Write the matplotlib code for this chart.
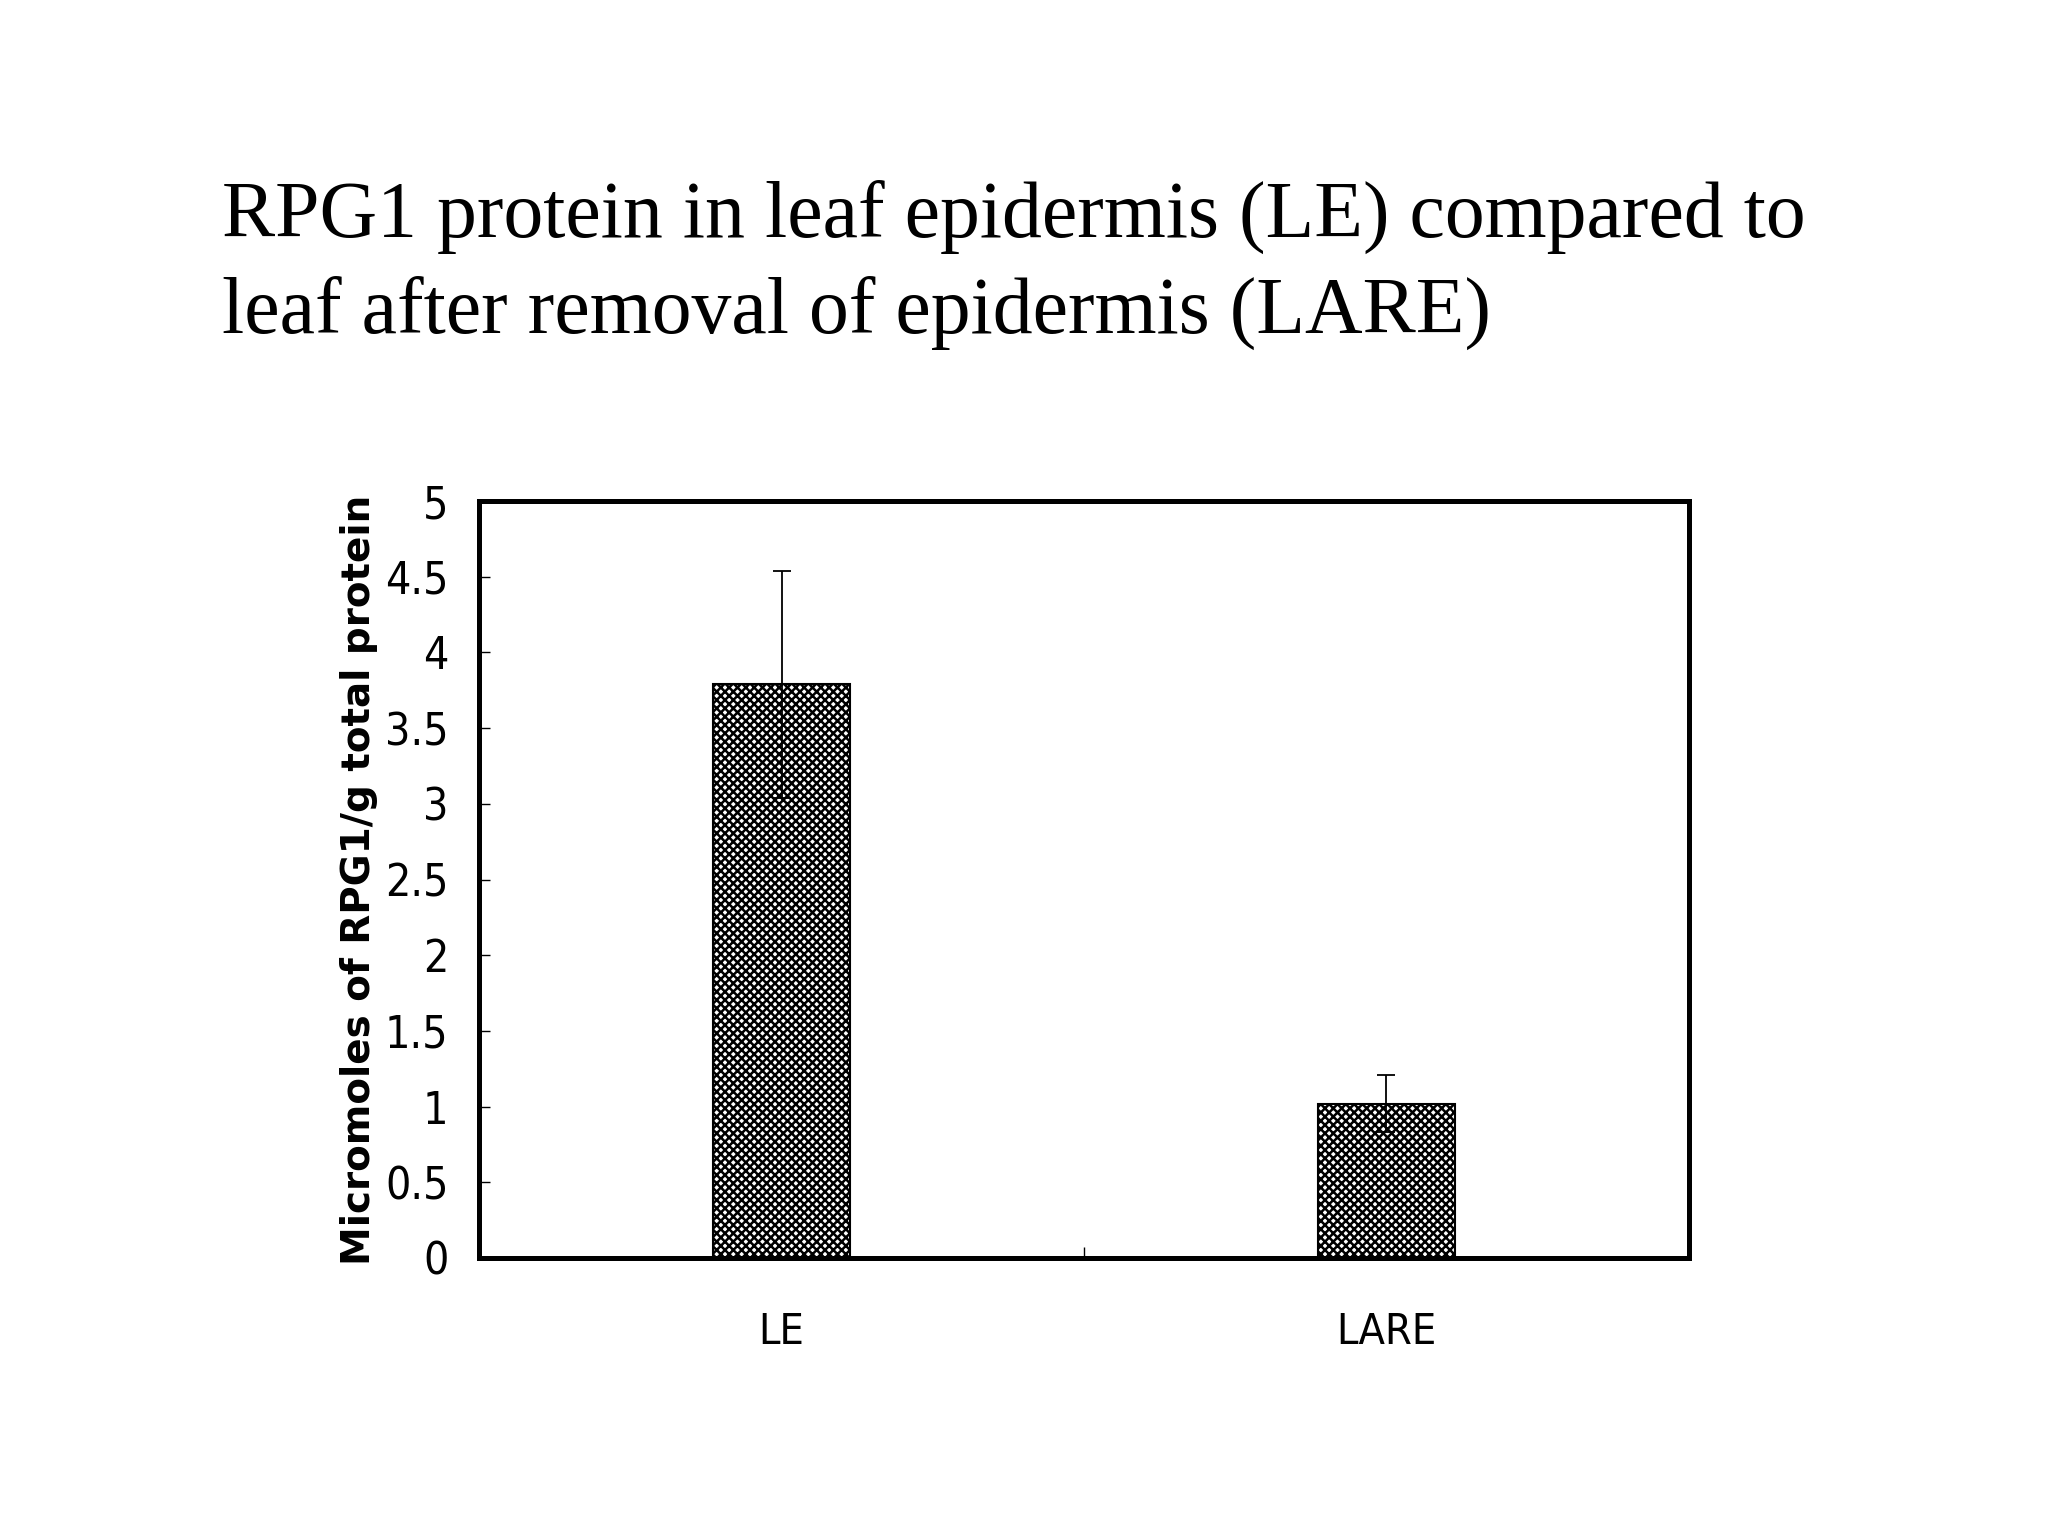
import matplotlib
matplotlib.use("Agg")
import matplotlib.pyplot as plt
import numpy as np

# RPG1 protein, leaf epidermis vs leaf after removal of epidermis
categories = ["LE", "LARE"]
means = [3.79, 1.02]
errors = [0.75, 0.19]
yticks = [0, 0.5, 1, 1.5, 2, 2.5, 3, 3.5, 4, 4.5, 5]
ytick_labels = ["0", "0.5", "1", "1.5", "2", "2.5", "3", "3.5", "4", "4.5", "5"]
title_lines = ["RPG1 protein in leaf epidermis (LE) compared to",
               "leaf after removal of epidermis (LARE)"]

plt.rcParams["hatch.linewidth"] = 1.8

fig = plt.figure(figsize=(20.48, 15.36), dpi=100)
ax = fig.add_axes([0.2339, 0.181, 0.5908, 0.4928])

x = np.arange(len(categories))
ax.bar(x, means, width=0.228, color="white", edgecolor="black",
       linewidth=1.5, hatch="xxxx", zorder=2)
ax.errorbar(x, means, yerr=errors, fmt="none", ecolor="black",
            elinewidth=1.3, capsize=6.8, capthick=1.3, zorder=3)

ax.set_xlim(-0.5, 1.5)
ax.set_ylim(0, 5)

tick_font = dict(family="DejaVu Sans", fontstretch="condensed")
ax.set_yticks(yticks)
ax.set_yticklabels(ytick_labels, fontsize=32, **tick_font)
ax.tick_params(axis="y", direction="in", length=8, width=1, pad=22)

ax.set_xticks(x)
ax.set_xticklabels(categories, fontsize=31, **tick_font)
ax.tick_params(axis="x", which="major", length=0, pad=38)
ax.set_xticks([0.5], minor=True)
ax.tick_params(axis="x", which="minor", direction="in", length=8, width=1)

for s in ax.spines.values():
    s.set_linewidth(3.6)

ax.set_ylabel("Micromoles of RPG1/g total protein", family="DejaVu Sans",
              fontweight="bold", fontsize=28, va="center")
ax.yaxis.set_label_coords(-0.099, 0.5)

fig.text(222 / 2048, 1 - 237 / 1536, title_lines[0], family="Liberation Serif",
         fontsize=57.4, ha="left", va="baseline")
fig.text(222 / 2048, 1 - 333 / 1536, title_lines[1], family="Liberation Serif",
         fontsize=57.4, ha="left", va="baseline")

fig.savefig("out.png", dpi=100, facecolor="white")
